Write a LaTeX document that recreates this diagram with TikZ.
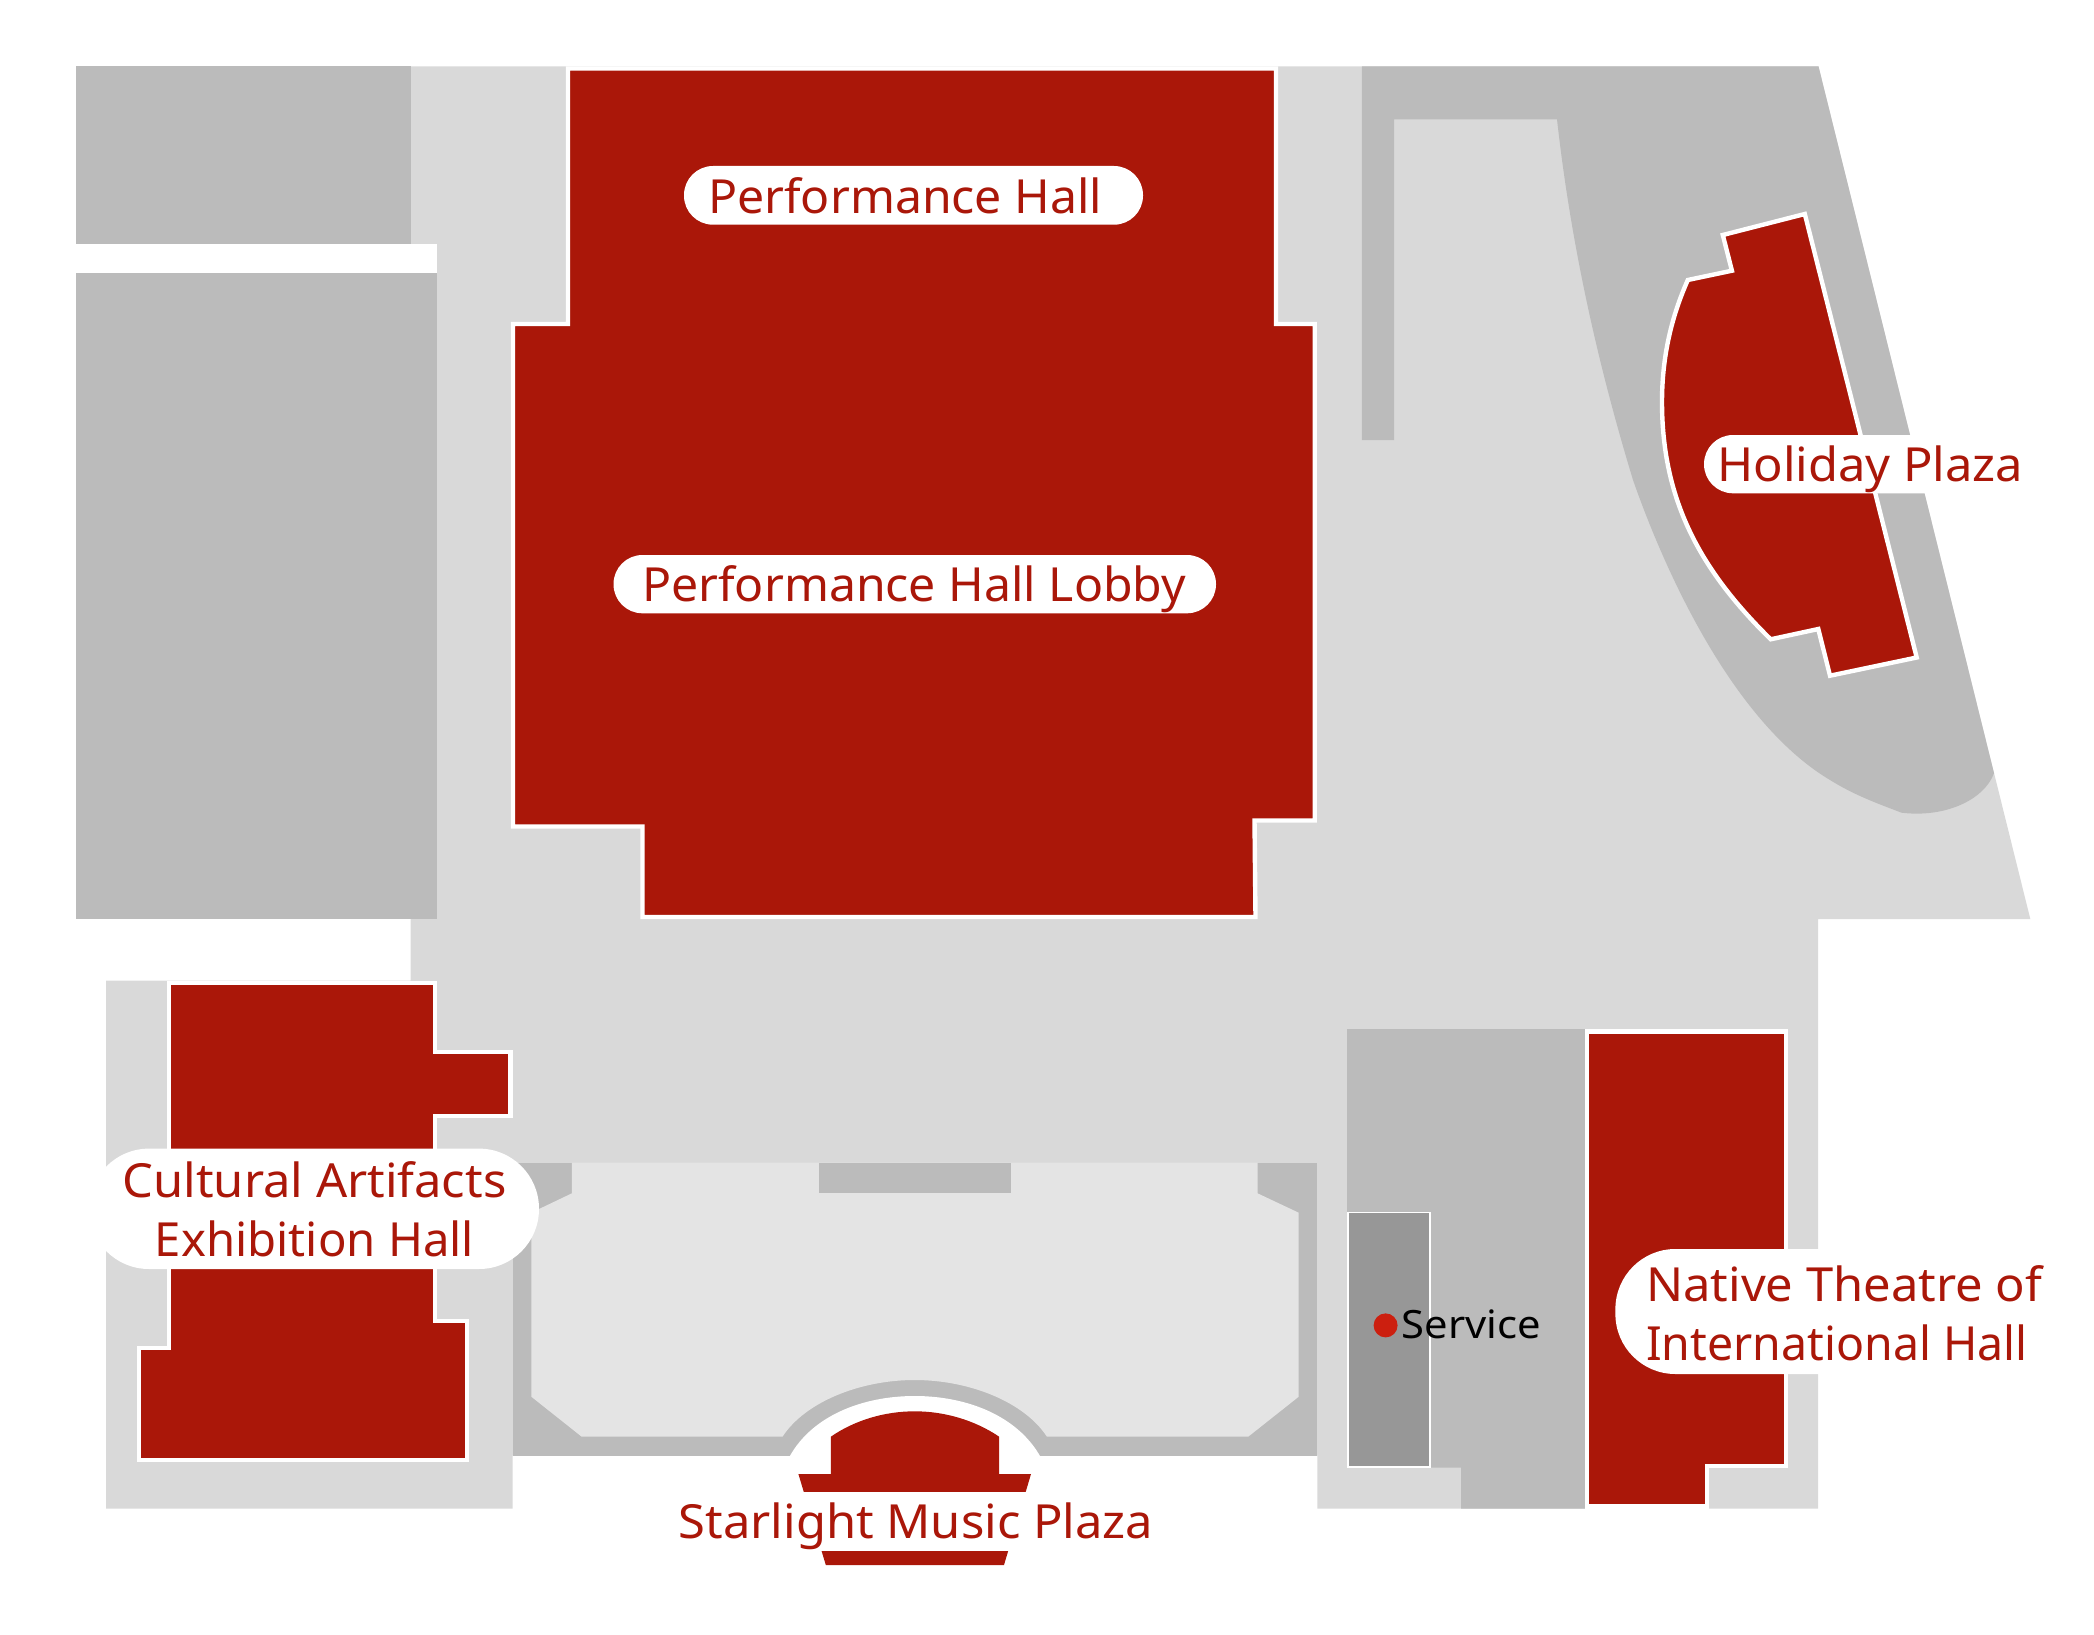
\documentclass[tikz,border=0pt]{standalone}
\usepackage{fontspec}
\setmainfont{Noto Sans}
\newfontfamily\fontA[FakeStretch=1.025]{Noto Sans}
\newfontfamily\fontB[FakeStretch=1.04]{Noto Sans}
\newfontfamily\fontC[FakeStretch=1.07]{Noto Sans}
\definecolor{hallred}{HTML}{AA1709}
\definecolor{darkg}{HTML}{BBBBBB}
\definecolor{lightg}{HTML}{D9D9D9}
\definecolor{paleg}{HTML}{E4E4E4}
\definecolor{servg}{HTML}{979797}
\definecolor{dotred}{HTML}{CC1F0F}
\tikzset{
  room/.style={fill=hallred,draw=white,line width=4.4pt,line join=miter},
  pill/.style={fill=white,rounded corners=#1},
  lbla/.style={font=\fontA\fontsize{47}{59}\selectfont,text=hallred,inner sep=0pt,anchor=base west},
  lblb/.style={font=\fontB\fontsize{47}{59}\selectfont,text=hallred,inner sep=0pt,anchor=base west},
  lblm/.style={font=\fontB\fontsize{47}{59}\selectfont,text=hallred,inner sep=0pt,align=#1},
}
\begin{document}
\begin{tikzpicture}[x=1pt,y=-1pt]
\useasboundingbox (0,0) rectangle (2094,1635);
% ground
\fill[lightg] (410.7,66.5)--(1818.5,66.5)--(2030.3,919)--(1818,919)--(1818,1508.6)--(1317.3,1508.6)--(1317.3,1455.7)--(512.7,1455.7)--(512.7,1508.6)--(106,1508.6)--(106,980.7)--(410.7,980.7)--cycle;
% left blocks
\fill[darkg] (76.3,66.5) rectangle (410.7,244.3);
\fill[white] (76.3,244.3) rectangle (436.6,273.3);
\fill[darkg] (76.3,273.3) rectangle (436.6,919);
% upper right planting
\fill[darkg] (1361.8,66.5)--(1818.5,66.5)--(1994,773.3)
  .. controls (1984,800) and (1945,818) .. (1901.5,812.7)
  .. controls (1879,804) and (1855,795.6) .. (1830,780)
  .. controls (1736,724) and (1668,580) .. (1633,480)
  .. controls (1598,365) and (1571,245) .. (1557,119.3)
  --(1394.2,119.3)--(1394.2,440)--(1361.8,440)--cycle;
% performance hall
\draw[room] (568,68.5)--(1276,68.5)--(1276,324)--(1314.7,324)--(1314.7,820.5)--(1254.5,820.5)--(1255.5,917)--(642.5,917)--(642.5,826.5)--(513,826.5)--(513,324)--(568,324)--cycle;
% holiday plaza
\draw[room] (1804.8,214)--(1722.8,235)--(1731.9,270.7)--(1687.8,280)
  .. controls (1670,320) and (1662,360) .. (1662,402)
  .. controls (1662,500) and (1700,570) .. (1770.7,639.3)
  --(1818.3,629)--(1830,675.7)--(1916.7,657.5)--cycle;
% music plaza forecourt
\fill[darkg] (512.7,1162.7) rectangle (1317.3,1455.7);
\fill[paleg] (571.9,1162.7)--(1257.5,1162.7)--(1257.5,1193.3)--(1298.7,1212.7)--(1298.7,1396.7)--(1248.2,1436.7)--(1046.9,1436.7)
  .. controls (1024.4,1402) and (969.4,1380) .. (914.7,1380)
  .. controls (860,1380) and (805,1402) .. (782.5,1436.7)
  --(581.7,1436.7)--(531.3,1396.7)--(531.3,1212.7)--(571.9,1193.3)--cycle;
\fill[darkg] (818.7,1162.7) rectangle (1011.2,1193.2);
\fill[white] (789.6,1456.5)
  .. controls (812,1416) and (862,1396) .. (914.7,1396)
  .. controls (967.4,1396) and (1017.4,1416) .. (1040.3,1456.5)--cycle;
% stage
\fill[hallred] (830.8,1436.7) .. controls (855,1420) and (885,1411.3) .. (914.7,1411.3)
  .. controls (944.4,1411.3) and (974.4,1420) .. (999.2,1436.7)
  --(999.2,1474)--(1031,1474)--(1004,1565)--(825.8,1565)--(798.4,1474)--(830.8,1474)--cycle;
% cultural hall
\draw[room] (169,983)--(435,983)--(435,1052)--(510.5,1052)--(510.5,1116)--(435,1116)--(435,1321)--(467,1321)--(467,1460)--(139,1460)--(139,1348)--(169,1348)--cycle;
% service block
\fill[darkg] (1347,1029)--(1585,1029)--(1585,1508.6)--(1461,1508.6)--(1461,1467.6)--(1347,1467.6)--cycle;
\draw[fill=servg,draw=white,line width=1.5pt] (1348,1212.6) rectangle (1430,1467);
% native theatre
\draw[room] (1587,1031.5)--(1785.7,1031.5)--(1785.7,1465.7)--(1707,1465.7)--(1707,1506.3)--(1587,1506.3)--cycle;
% label backgrounds
\fill[pill=29] (684,166) rectangle (1143,224.7);
\fill[pill=29] (613.5,555) rectangle (1216,613.3);
\fill[pill=29] (1704,435) rectangle (2036,493.3);
\fill[pill=60] (89,1148.6) rectangle (539,1269);
\fill[pill=60] (1615.4,1249) rectangle (2072,1374);
\fill[white] (650,1492.3) rectangle (1180,1551);
% labels
\node[lbla] (perf) at (708,213) {Performance Hall};
\node[lbla] (lobby) at (642,601.3) {Performance Hall Lobby};
\node[lblb] (holiday) at (1717,481.5) {Holiday Plaza};
\node[lblm=center] (cult) at (314.5,1209.5) {Cultural Artifacts\\\scalebox{.967}[1]{Exhibition Hall}};
\node[lblm=left,anchor=west] (native) at (1646,1313.5) {Native Theatre of\\\scalebox{.95}[1]{International Hall}};
\node[lblb] (star) at (678.5,1538.5) {Starlight Music Plaza};
\fill[dotred] (1385.6,1325.4) circle[radius=12];
\node[inner sep=0pt,anchor=base west,font=\fontC\fontsize{39}{46}\selectfont,text=black] (serv) at (1401.5,1338.5) {Service};
\end{tikzpicture}
\end{document}
